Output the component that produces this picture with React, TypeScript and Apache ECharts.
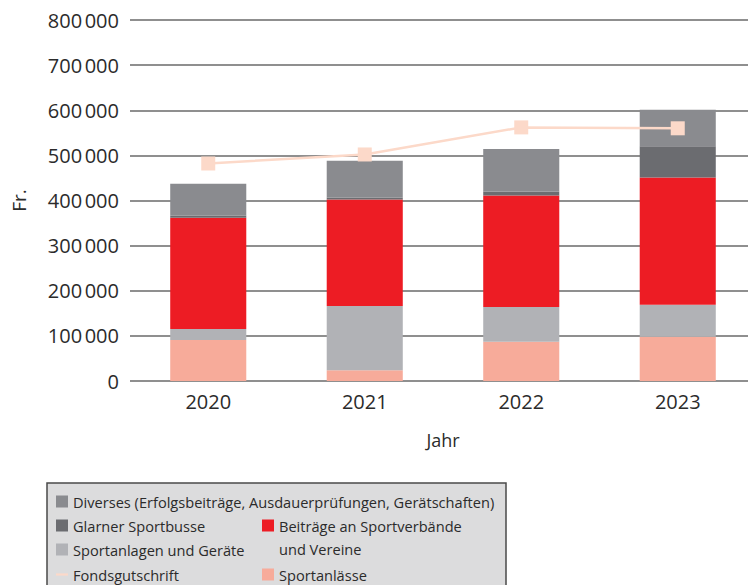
import React, { useEffect, useRef } from "react";
import * as echarts from "echarts";

const years = ["2020", "2021", "2022", "2023"];
const sportanlaesse = [91000, 24000, 87000, 98000];
const sportanlagen = [24000, 142000, 77000, 71000];
const beitraege = [247000, 236000, 247000, 282000];
const glarner = [4000, 4000, 9000, 69000];
const diverses = [71000, 82000, 94000, 81000];
const fondsgutschrift = [482000, 502000, 562000, 560000];
const yTicks = [0, 100000, 200000, 300000, 400000, 500000, 600000, 700000, 800000];

const FONT = "'Open Sans', 'Noto Sans', sans-serif";
const TXT = "#2b2b2b";

const C_DIV = "#8a8b8f";
const C_GLA = "#6b6c70";
const C_ANL = "#b1b2b6";
const C_BEI = "#ed1c24";
const C_SPO = "#f7ab9a";
const C_FON = "#fcd9c9";

function fmt(v: number) {
  const s = String(Math.round(v));
  return s.replace(/\B(?=(\d{3})+(?!\d))/g, "\u202F");
}

function legendItem(name: string, left: number, top: number, icon: string) {
  return {
    show: true,
    left,
    top,
    padding: 0,
    itemWidth: 12,
    itemHeight: 12,
    itemGap: 0,
    selectedMode: false,
    data: [{ name, icon }],
    textStyle: { fontFamily: FONT, fontSize: 14.6, color: TXT },
  };
}

export default function App() {
  const ref = useRef<HTMLDivElement>(null);
  useEffect(() => {
    if (!ref.current) return;
    const chart = echarts.init(ref.current, undefined, { renderer: "svg" });
    const barCommon = { type: "bar", stack: "total", barWidth: "48.6%" };
    const lineIcon = "path://M0,5 L11,5 L11,7 L0,7 Z";
    chart.setOption({
      animation: false,
      backgroundColor: "#ffffff",
      grid: {
        left: 130,
        top: 20,
        width: 626,
        height: 361,
        containLabel: false,
        outerBoundsMode: "none",
      },
      xAxis: {
        type: "category",
        data: years,
        axisLine: { show: false },
        axisTick: { show: false },
        axisLabel: { margin: 10, fontFamily: FONT, fontSize: 20, color: TXT },
        name: "Jahr",
        nameLocation: "middle",
        nameGap: 50,
        nameTextStyle: { fontFamily: FONT, fontSize: 18, color: TXT },
      },
      yAxis: {
        type: "value",
        min: 0,
        max: 800000,
        interval: 100000,
        axisLine: { show: false },
        axisTick: { show: false },
        splitLine: { lineStyle: { color: "#6a6a6a", width: 1.5 } },
        axisLabel: {
          margin: 11,
          fontFamily: FONT,
          fontSize: 20,
          color: TXT,
          formatter: (v: number) => (yTicks.includes(v) ? fmt(v) : ""),
        },
        name: "Fr.",
        nameLocation: "middle",
        nameRotate: 90,
        nameGap: 102,
        nameTextStyle: { fontFamily: FONT, fontSize: 19, color: TXT },
      },
      legend: [
        legendItem("Diverses (Erfolgsbeiträge, Ausdauerprüfungen, Gerätschaften)", 56, 494, "rect"),
        legendItem("Glarner Sportbusse", 56, 518, "rect"),
        legendItem("Sportanlagen und Geräte", 56, 542, "rect"),
        legendItem("Fondsgutschrift", 56, 567, lineIcon),
        legendItem("Beiträge an Sportverbände", 262, 518, "rect"),
        legendItem("Sportanlässe", 262, 567, "rect"),
      ],
      graphic: [
        {
          type: "rect",
          z: -10,
          silent: true,
          shape: { x: 47, y: 483, width: 459, height: 120 },
          style: { fill: "#dcdcdd", stroke: "#4a4a4a", lineWidth: 1.5 },
        },
        {
          type: "text",
          left: 279,
          top: 541,
          silent: true,
          style: { text: "und Vereine", fontFamily: FONT, fontSize: 14.6, fill: TXT },
        },
      ],
      series: [
        { ...barCommon, name: "Sportanlässe", data: sportanlaesse, itemStyle: { color: C_SPO } },
        { ...barCommon, name: "Sportanlagen und Geräte", data: sportanlagen, itemStyle: { color: C_ANL } },
        { ...barCommon, name: "Beiträge an Sportverbände", data: beitraege, itemStyle: { color: C_BEI } },
        { ...barCommon, name: "Glarner Sportbusse", data: glarner, itemStyle: { color: C_GLA } },
        { ...barCommon, name: "Diverses (Erfolgsbeiträge, Ausdauerprüfungen, Gerätschaften)", data: diverses, itemStyle: { color: C_DIV } },
        {
          type: "line",
          name: "Fondsgutschrift",
          data: fondsgutschrift,
          symbol: "rect",
          symbolSize: 14,
          z: 5,
          lineStyle: { color: C_FON, width: 2.5 },
          itemStyle: { color: C_FON },
        },
      ],
    });
    return () => chart.dispose();
  }, []);
  return (
    <div
      ref={ref}
      style={{ position: "absolute", left: 0, top: 0, width: 748, height: 585 }}
    />
  );
}
